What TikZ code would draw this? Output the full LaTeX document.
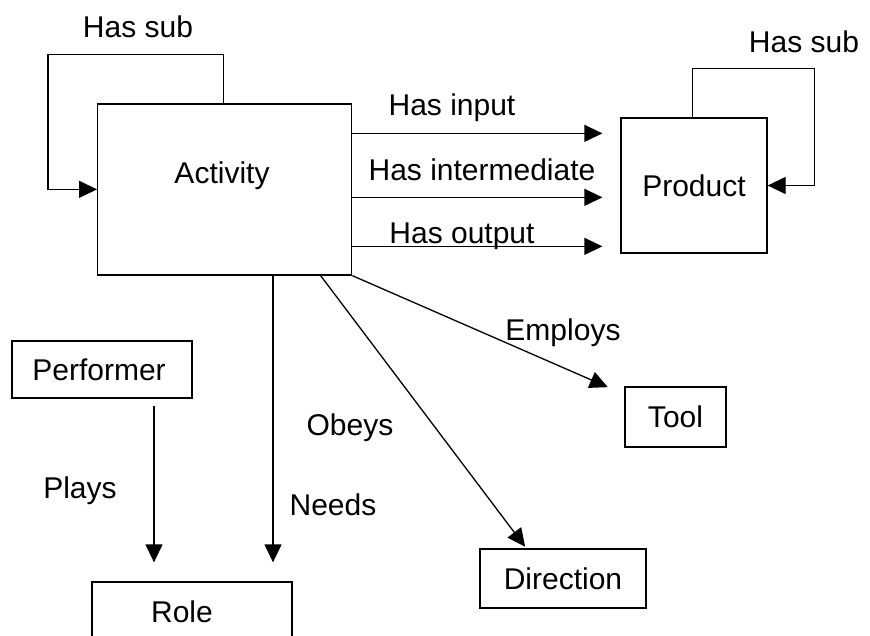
\documentclass[tikz,border=0pt]{standalone}
\usepackage{fontspec}
\setmainfont{Liberation Sans}
\usetikzlibrary{arrows.meta,calc}
\newcommand\labfont{\fontsize{30}{36}\selectfont}
\begin{document}
\begin{tikzpicture}[x=1pt,y=-1pt,
  box/.style={draw,line width=1.3pt,inner sep=0pt,font=\labfont},
  lbl/.style={font=\labfont,inner sep=0pt,anchor=base},
  conn/.style={line width=1.3pt,-{Triangle[length=18pt,width=17pt]}}]
\useasboundingbox (0,0) rectangle (870,635);
\clip (0,0) rectangle (870,635);
% boxes
\node[box,minimum width=254pt,minimum height=171pt] (act) at (224.7,189.5) {};
\node[lbl] (actlab) at (222,183) {Activity};
\node[box,minimum width=146pt,minimum height=135pt] (prod) at (694,185.5) {Product};
\node[box,minimum width=180pt,minimum height=57pt] (perf) at (102,369.5) {Performer\hspace*{6pt}};
\node[box,minimum width=101pt,minimum height=60pt] (tool) at (675.5,417) {Tool};
\node[box,minimum width=166pt,minimum height=59pt] (dir) at (563,578.5) {Direction};
\node[box,minimum width=200pt,minimum height=60pt] (role) at (192,612) {Role\hspace*{20pt}};
% self loops
\draw[conn] ($(act.north west)+(126.3,0)$) -- ++(0,-49) -- ++(-175.5,0) |- ($(act.north west)+(0,86)$);
\draw[conn] ($(prod.north west)+(72,0)$) -- ++(0,-49) -- ++(122,0) |- (prod.east);
% activity -> product
\coordinate (o1) at ($(act.north east)+(0,30)$);
\coordinate (o2) at ($(act.north east)+(0,94)$);
\coordinate (o3) at ($(act.north east)+(0,143)$);
\draw[conn,shorten >=18pt] (o1) -- (o1 -| prod.west);
\draw[conn,shorten >=18pt] (o2) -- (o2 -| prod.west);
\draw[conn,shorten >=18pt] (o3) -- (o3 -| prod.west);
% diagonals
\draw[conn,shorten >=18pt] (act.south east) -- ($(tool.north west)+(0,8)$);
\draw[conn,shorten >=2pt] ($(act.south east)+(-31.7,0)$) -- ($(dir.north west)+(47,0)$);
% verticals
\coordinate (nd) at ($(act.south)+(48.3,0)$);
\draw[conn,shorten >=19pt] (nd) -- (nd |- role.north);
\coordinate (pl) at ($(perf.south)+(52,0)$);
\draw[conn,shorten <=7pt,shorten >=19pt] (pl) -- (pl |- role.north);
% labels
\node[lbl] (l1) at (138,37) {Has sub};
\node[lbl] (l2) at (804,52) {Has sub};
\node[lbl] (l3) at (452,115) {Has input};
\node[lbl] (l4) at (482,180) {Has intermediate};
\node[lbl] (l5) at (462,243) {Has output};
\node[lbl] (l6) at (563,340) {Employs};
\node[lbl] (l7) at (350,435) {Obeys};
\node[lbl] (l8) at (333,515) {Needs};
\node[lbl] (l9) at (80,498) {Plays};
\end{tikzpicture}
\end{document}
